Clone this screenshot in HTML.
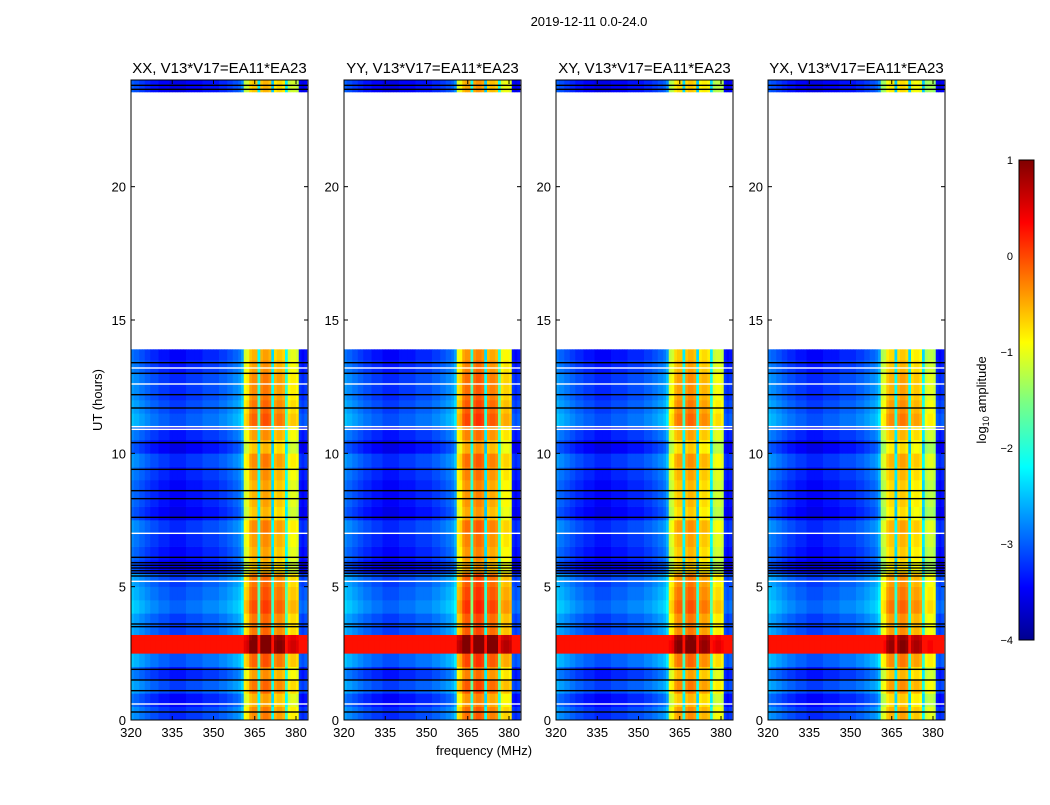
<!DOCTYPE html>
<html><head><meta charset="utf-8"><style>
body{margin:0;background:#fff;width:1050px;height:800px;overflow:hidden}
svg text{font-family:"Liberation Sans",sans-serif;fill:#000}
</style></head><body>
<svg id="chart" width="1050" height="800">
<defs><linearGradient id="jet" x1="0" y1="1" x2="0" y2="0">
<stop offset="0" stop-color="#00008f"/><stop offset="0.11" stop-color="#0000ff"/><stop offset="0.36" stop-color="#00ffff"/><stop offset="0.5" stop-color="#7fff7f"/><stop offset="0.62" stop-color="#ffff00"/><stop offset="0.87" stop-color="#ff0000"/><stop offset="1" stop-color="#800000"/></linearGradient></defs>
<text x="589" y="26" font-size="13" text-anchor="middle">2019-12-11 0.0-24.0</text>
<g id="panels"></g>
<g>
<rect x="1019" y="160" width="15" height="480" fill="url(#jet)" stroke="#000"/>
<text x="1013" y="164" font-size="11" text-anchor="end">1</text>
<text x="1013" y="260" font-size="11" text-anchor="end">0</text>
<text x="1013" y="356" font-size="11" text-anchor="end">−1</text>
<text x="1013" y="452" font-size="11" text-anchor="end">−2</text>
<text x="1013" y="548" font-size="11" text-anchor="end">−3</text>
<text x="1013" y="644" font-size="11" text-anchor="end">−4</text>
<text transform="translate(986,400) rotate(-90)" font-size="13" text-anchor="middle">log<tspan font-size="9" dy="3">10</tspan><tspan dy="-3"> amplitude</tspan></text>
</g>
<text x="484" y="755" font-size="13" text-anchor="middle">frequency (MHz)</text>
<text transform="translate(102,400) rotate(-90)" font-size="13" text-anchor="middle">UT (hours)</text>
</svg>
<script>
const panelTitles=["XX, V13*V17=EA11*EA23","YY, V13*V17=EA11*EA23","XY, V13*V17=EA11*EA23","YX, V13*V17=EA11*EA23"];
const panelBandOffset=[0,0.15,-0.1,-0.2];
const freqStart=[320,321,322,323,324,325,326,327,328,329,330,331,332,333,334,335,336,337,338,339,340,341,342,343,344,345,346,347,348,349,350,351,352,353,354,355,356,357,358,359,360,361,362,363,364,365,366,367,368,369,370,371,372,373,374,375,376,377,378,379,380,381,382,383];
const colLevel=[-2.7,-2.8,-2.8,-2.9,-2.9,-3.0,-3.0,-3.1,-3.1,-3.1,-3.2,-3.2,-3.2,-3.2,-3.3,-3.3,-3.3,-3.3,-3.3,-3.3,-3.2,-3.2,-3.2,-3.2,-3.2,-3.2,-3.1,-3.1,-3.1,-3.1,-3.1,-3.1,-3.0,-3.0,-3.0,-2.9,-2.9,-2.8,-2.8,-2.7,-2.5,-1.0,-0.9,-0.5,-0.4,-0.4,-2.0,-0.4,-0.3,-0.3,-0.4,-2.2,-0.6,-0.5,-0.5,-0.6,-2.0,-1.0,-0.9,-0.9,-1.0,-3.2,-3.3,-3.2];
const timeStart=[0,0.5,1,1.5,2,2.5,3,3.2,4,4.5,5,5.5,6,6.5,7,7.5,8,8.5,9,9.5,10,10.5,11,11.5,12,12.5,13,13.5,23.55];
const timeEnd=[0.5,1,1.5,2,2.5,3,3.2,4,4.5,5,5.5,6,6.5,7,7.5,8,8.5,9,9.5,10,10.5,11,11.5,12,12.5,13,13.5,13.9,24];
const rowOffset=[0.1,-0.1,0.2,0,0.3,1.5,1.4,0.2,0.4,0.3,0.2,-0.2,-0.1,0,0.1,-0.2,-0.1,-0.1,0,0.1,-0.2,0,0.3,0.2,0.1,0.1,0,-0.1,-0.2];
const blackLines=[0.3,1.1,1.5,1.9,3.5,3.6,5.4,5.5,5.6,5.7,5.8,5.9,6.1,7.6,8.3,8.6,9.4,10.4,11.7,12.2,13.0,13.4,23.65,23.8];
const whiteLines=[0.6,7.0,10.9,11.0,12.6,13.2,5.2];
const xTicks=[320,335,350,365,380];
const yTicks=[0,5,10,15,20];
const panelX=[131,344,556,768];
const PW=177,PT=80,PB=720;
function jet(v){let t=Math.max(0,Math.min(1,(v+4)/5));
 const f=(a)=>Math.max(0,Math.min(1,1.5-Math.abs(4*t-a)));
 return `rgb(${Math.round(255*f(3))},${Math.round(255*f(2))},${Math.round(255*f(1))})`;}
const NS="http://www.w3.org/2000/svg";
const root=document.getElementById('panels');
function mk(tag,attrs,parent){const e=document.createElementNS(NS,tag);for(const k in attrs)e.setAttribute(k,attrs[k]);parent.appendChild(e);return e;}
const yS=h=>PB-(h/24)*(PB-PT);
panelTitles.forEach((title,p)=>{
 const x0=panelX[p];const xS=f=>x0+(f-320)*2.75;
 const g=mk('g',{},root);
 
 
 timeStart.forEach((t0,r)=>{
  freqStart.forEach((f0,c)=>{
   let v=colLevel[c]+rowOffset[r];
   if(colLevel[c]>-2.1) v+=panelBandOffset[p];
   if(rowOffset[r]>1) v=Math.max(v,0.3);
   const rc=mk('rect',{x:xS(f0),y:yS(timeEnd[r]),width:Math.min(2.75,x0+PW-xS(f0))+0.3,height:yS(t0)-yS(timeEnd[r])+0.3,fill:jet(v)},g);
   
   
  });
 });
 blackLines.forEach(h=>{const l=mk('rect',{x:x0,y:yS(h)-0.7,width:PW,height:1.4,fill:'#000'},g);
  
  });
 whiteLines.forEach(h=>{const l=mk('rect',{x:x0,y:yS(h)-0.7,width:PW,height:1.4,fill:'#fff'},g);
  
  });
 const fr=mk('rect',{x:x0,y:PT,width:PW,height:PB-PT,fill:'none',stroke:'#000'},g);
 
 
 const tt=mk('text',{x:x0+PW/2,y:73,'font-size':15,'text-anchor':'middle'},g);tt.textContent=title;
 
 
 xTicks.forEach(f=>{mk('line',{x1:xS(f),x2:xS(f),y1:PB,y2:PB-4,stroke:'#000'},g);mk('line',{x1:xS(f),x2:xS(f),y1:PT,y2:PT+4,stroke:'#000'},g);
  const t=mk('text',{x:xS(f),y:PB+17,'font-size':13,'text-anchor':'middle'},g);t.textContent=f;
  
  });
 yTicks.forEach(h=>{mk('line',{x1:x0,x2:x0+4,y1:yS(h),y2:yS(h),stroke:'#000'},g);mk('line',{x1:x0+PW,x2:x0+PW-4,y1:yS(h),y2:yS(h),stroke:'#000'},g);
  const t=mk('text',{x:x0-5,y:yS(h)+5,'font-size':13,'text-anchor':'end'},g);t.textContent=h;
  
  });
});
</script>
</body></html>
